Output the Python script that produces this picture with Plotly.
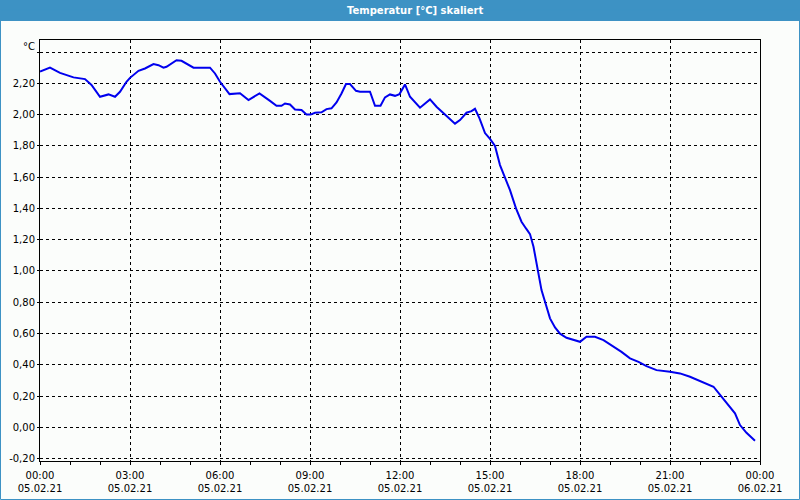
import plotly.graph_objects as go

# time of day in minutes after 05.02.21 00:00
minutes = [0, 20, 40, 67, 90, 103, 120, 137, 150, 160, 173, 180, 197, 210, 227, 237, 247, 253,
           273, 283, 307, 340, 350, 360, 379, 400, 417, 439, 460, 473, 483, 490, 500, 510, 523,
           533, 541, 550, 563, 573, 583, 593, 603, 612, 620, 632, 640, 660, 670, 681, 690, 700,
           710, 719, 730, 740, 760, 780, 793, 813, 830, 840, 853, 863, 870, 879, 890, 900, 910,
           920, 930, 940, 952, 963, 972, 980, 987, 995, 1003, 1012, 1020, 1030, 1040, 1053,
           1070, 1080, 1093, 1110, 1127, 1143, 1163, 1180, 1197, 1213, 1233, 1260, 1280, 1300,
           1320, 1347, 1363, 1380, 1390, 1400, 1413, 1430]
temps = [2.275, 2.30, 2.267, 2.238, 2.227, 2.19, 2.114, 2.129, 2.114, 2.146, 2.21, 2.235, 2.28,
         2.295, 2.323, 2.316, 2.30, 2.306, 2.348, 2.344, 2.30, 2.30, 2.263, 2.21, 2.131, 2.136,
         2.093, 2.136, 2.088, 2.056, 2.056, 2.071, 2.065, 2.033, 2.029, 2.001, 2.0, 2.012, 2.015,
         2.035, 2.04, 2.078, 2.135, 2.195, 2.195, 2.152, 2.146, 2.146, 2.056, 2.056, 2.11, 2.129,
         2.12, 2.131, 2.193, 2.114, 2.044, 2.097, 2.05, 1.99, 1.942, 1.965, 2.012, 2.022, 2.037,
         1.976, 1.882, 1.845, 1.799, 1.677, 1.602, 1.517, 1.40, 1.315, 1.272, 1.236, 1.155,
         1.006, 0.878, 0.782, 0.697, 0.639, 0.599, 0.573, 0.554, 0.547, 0.579, 0.579, 0.558,
         0.526, 0.483, 0.441, 0.419, 0.392, 0.366, 0.355, 0.345, 0.324, 0.296, 0.26, 0.196,
         0.128, 0.09, 0.015, -0.035, -0.086]

title = "Temperatur [°C] skaliert"
unit = "°C"
y_ticks = [-0.2, 0.0, 0.2, 0.4, 0.6, 0.8, 1.0, 1.2, 1.4, 1.6, 1.8, 2.0, 2.2, 2.4]
y_labels = ["-0,20", "0,00", "0,20", "0,40", "0,60", "0,80", "1,00", "1,20", "1,40",
            "1,60", "1,80", "2,00", "2,20", ""]
x_tick_minutes = [0, 180, 360, 540, 720, 900, 1080, 1260, 1440]
x_tick_labels = ["00:00<br>05.02.21", "03:00<br>05.02.21", "06:00<br>05.02.21",
                 "09:00<br>05.02.21", "12:00<br>05.02.21", "15:00<br>05.02.21",
                 "18:00<br>05.02.21", "21:00<br>05.02.21", "00:00<br>06.02.21"]
minor_minutes = list(range(0, 1441, 60))

FONT = "DejaVu Sans"
BG = "#fbfdfb"
BAR = "#3d92c4"

fig = go.Figure()
fig.add_trace(go.Scatter(x=minutes, y=temps, mode="lines",
                         line=dict(color="#0000ee", width=2), hoverinfo="skip"))

W, H = 720.0, 421.0  # plot area px
L, T = 40.0, 40.0

def px_x(p):
    return (p - L) / W

def px_y(p):
    return (T + H - p) / H

fig.update_layout(
    width=800, height=500,
    margin=dict(l=40, r=40, t=40, b=39, autoexpand=False),
    paper_bgcolor=BG, plot_bgcolor=BG,
    showlegend=False,
    font=dict(family=FONT, size=10, color="#000000"),
    xaxis=dict(range=[0, 1440], tickmode="array", tickvals=x_tick_minutes,
               ticktext=x_tick_labels, showgrid=True, gridcolor="#000000", gridwidth=1,
               griddash="3px,3px", showline=True, linecolor="#000000", linewidth=1,
               mirror=True, ticks="outside", ticklen=3, tickcolor="#000000",
               zeroline=False, tickfont=dict(size=10), automargin=False,
               ticklabelstandoff=2,
               minor=dict(tickmode="array", tickvals=minor_minutes, ticks="outside",
                          ticklen=3, tickcolor="#000000", showgrid=False)),
    yaxis=dict(range=[-0.215, 2.477], tickmode="array", tickvals=y_ticks,
               ticktext=y_labels, showgrid=True, gridcolor="#000000", gridwidth=1,
               griddash="3px,3px", showline=True, linecolor="#000000", linewidth=1,
               mirror=True, ticks="outside", ticklen=2, tickcolor="#000000",
               zeroline=False, tickfont=dict(size=10), automargin=False),
    shapes=[
        dict(type="rect", xref="paper", yref="paper", x0=px_x(0), x1=px_x(800),
             y0=px_y(21), y1=px_y(0), fillcolor=BAR, line=dict(width=0), layer="above"),
        dict(type="rect", xref="paper", yref="paper", x0=px_x(0.5), x1=px_x(799.5),
             y0=px_y(499.5), y1=px_y(10), fillcolor="rgba(0,0,0,0)",
             line=dict(color=BAR, width=1), layer="above"),
    ],
    annotations=[
        dict(text="<b>" + title + "</b>", xref="paper", yref="paper", x=px_x(415),
             y=px_y(10.5), showarrow=False, xanchor="center", yanchor="middle",
             font=dict(family=FONT, size=10, color="#ffffff")),
        dict(text=unit, xref="paper", yref="paper", x=px_x(37), y=px_y(46),
             showarrow=False, xanchor="right", yanchor="middle",
             font=dict(family=FONT, size=10, color="#000000")),
    ],
)

fig.write_html("out.html")
